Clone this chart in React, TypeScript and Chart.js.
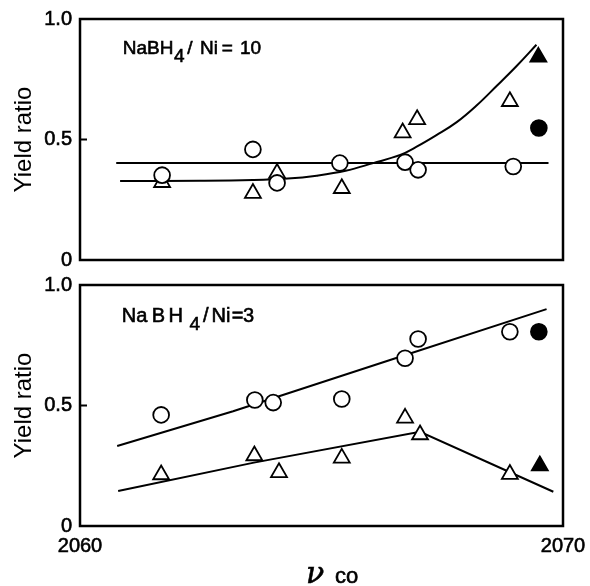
import { useEffect, useRef } from 'react';
import { Chart, registerables } from 'chart.js';

Chart.register(...registerables);

// ---------- data ----------
const xMin = 2060;
const xMax = 2070;
const xTickValues = [2060, 2070];
const yTickValues = [0, 0.5, 1.0];
const yTickLabels = ['0', '0.5', '1.0'];

// Top panel (NaBH4/Ni = 10)
const topCircleX = [2061.7, 2063.58, 2064.08, 2065.38, 2066.73, 2067.0, 2068.97];
const topCircleY = [0.352, 0.459, 0.32, 0.402, 0.406, 0.374, 0.388];
const topFilledCircleX = [2069.5];
const topFilledCircleY = [0.548];
const topTriangleX = [2061.7, 2063.58, 2064.08, 2065.42, 2066.68, 2066.98, 2068.9];
const topTriangleY = [0.322, 0.277, 0.36, 0.297, 0.528, 0.583, 0.658];
const topFilledTriangleX = [2069.49];
const topFilledTriangleY = [0.842];
const topCircleLineX = [2060.75, 2069.7];
const topCircleLineY = [0.402, 0.402];
const topTriangleCurveX = [2060.83, 2062.48, 2063.58, 2064.3, 2064.9, 2065.5, 2066.07, 2066.63, 2066.97, 2067.38, 2067.8, 2068.21, 2068.63, 2069.04, 2069.45];
const topTriangleCurveY = [0.328, 0.329, 0.332, 0.338, 0.35, 0.37, 0.402, 0.436, 0.47, 0.518, 0.572, 0.641, 0.723, 0.805, 0.893];

// Bottom panel (NaBH4/Ni = 3)
const botCircleX = [2061.68, 2063.62, 2064.0, 2065.42, 2066.73, 2067.0, 2068.9];
const botCircleY = [0.461, 0.523, 0.512, 0.527, 0.696, 0.776, 0.806];
const botFilledCircleX = [2069.5];
const botFilledCircleY = [0.806];
const botTriangleX = [2061.68, 2063.61, 2064.12, 2065.42, 2066.73, 2067.04, 2068.9];
const botTriangleY = [0.213, 0.292, 0.222, 0.282, 0.448, 0.379, 0.215];
const botFilledTriangleX = [2069.52];
const botFilledTriangleY = [0.25];
const botCircleLineX = [2060.77, 2063.17, 2066.42, 2069.66];
const botCircleLineY = [0.332, 0.476, 0.689, 0.9];
const botTriangleLineX = [2060.79, 2063.6, 2067.04, 2069.8];
const botTriangleLineY = [0.145, 0.263, 0.391, 0.142];

const yTitle = 'Yield ratio';
const topLabel = ['NaBH', '4', '/', 'Ni', '=', '10'];
const botLabel = ['Na', 'B', 'H', '4', '/', 'Ni', '=', '3'];
const xTitle = ['ν', 'co'];

// ---------- helpers ----------
const pts = (xs: number[], ys: number[]) => xs.map((x, i) => ({ x, y: ys[i] }));
const SANS = "'Liberation Sans', Arial, sans-serif";

function markerSet(xs: number[], ys: number[], style: string, filled: boolean) {
  const tri = style === 'triangle';
  return {
    type: 'scatter' as const,
    data: pts(xs, ys),
    pointStyle: style,
    pointRadius: tri ? 9.2 : 7.9,
    pointBorderWidth: 1.8,
    pointBorderColor: '#000',
    pointBackgroundColor: filled ? '#000' : '#fff',
    showLine: false,
    order: 0,
  };
}

function lineSet(xs: number[], ys: number[], smooth: boolean) {
  return {
    type: 'line' as const,
    data: pts(xs, ys),
    borderColor: '#000',
    borderWidth: 2,
    pointRadius: 0,
    fill: false,
    cubicInterpolationMode: 'default' as const,
    tension: smooth ? 0.4 : 0,
    order: 1,
  };
}

type Piece = { t: string; dx: number; dy: number; size: number; font?: string };

function drawPiece(ctx: CanvasRenderingContext2D, p: Piece, x: number, y: number) {
  ctx.font = p.font ? `${p.font} ${p.size}px 'DejaVu Serif', serif` : `${p.size}px ${SANS}`;
  ctx.fillText(p.t, x, y);
  ctx.lineWidth = 0.6;
  ctx.strokeText(p.t, x, y);
}

function decor(pieces: Piece[], extra: Piece[]) {
  return {
    id: 'decor',
    afterDraw(chart: any) {
      const { ctx, chartArea: a, scales } = chart;
      ctx.save();
      ctx.strokeStyle = '#000';
      ctx.lineWidth = 2.5;
      ctx.strokeRect(a.left, a.top, a.right - a.left, a.bottom - a.top);
      ctx.lineWidth = 2;
      for (const v of yTickValues) {
        if (v > 0 && v < 1) {
          const py = scales.y.getPixelForValue(v);
          ctx.beginPath();
          ctx.moveTo(a.left, py);
          ctx.lineTo(a.left + 7, py);
          ctx.stroke();
        }
      }
      ctx.fillStyle = '#000';
      ctx.textBaseline = 'alphabetic';
      ctx.textAlign = 'left';
      for (const p of pieces) drawPiece(ctx, p, a.left + p.dx, a.top + p.dy);
      for (const p of extra) drawPiece(ctx, p, a.left + p.dx, a.bottom + p.dy);
      ctx.restore();
    },
  };
}

function makeOptions(showX: boolean, padding: any) {
  return {
    responsive: false,
    animation: false as const,
    devicePixelRatio: 1,
    layout: { padding },
    plugins: { legend: { display: false }, tooltip: { enabled: false } },
    scales: {
      x: {
        type: 'linear' as const,
        min: xMin,
        max: xMax,
        display: showX,
        afterBuildTicks: (s: any) => {
          s.ticks = xTickValues.map((value) => ({ value }));
        },
        afterFit: (s: any) => {
          if (showX) s.height = 60;
        },
        grid: { display: false, drawTicks: true, tickLength: 5 },
        border: { display: false },
        ticks: {
          color: '#000',
          font: { family: SANS, size: 20 },
          padding: 3,
          maxRotation: 0,
          autoSkip: false,
          textStrokeColor: '#000',
          textStrokeWidth: 0.6,
          callback: (v: any) => String(v),
        },
      },
      y: {
        type: 'linear' as const,
        min: 0,
        max: 1,
        afterBuildTicks: (s: any) => {
          s.ticks = yTickValues.map((value) => ({ value }));
        },
        afterFit: (s: any) => {
          s.width = 80;
        },
        grid: { display: false, drawTicks: true, tickLength: 5 },
        border: { display: false },
        ticks: {
          color: '#000',
          font: { family: SANS, size: 20 },
          padding: 3,
          autoSkip: false,
          textStrokeColor: '#000',
          textStrokeWidth: 0.6,
          callback: (v: any) => yTickLabels[yTickValues.indexOf(Number(v))] ?? '',
        },
        title: {
          display: true,
          text: yTitle,
          color: '#000',
          font: { family: SANS, size: 24 },
          padding: { top: 10, bottom: 0 },
        },
      },
    },
  };
}

export default function App() {
  const topRef = useRef<HTMLCanvasElement>(null);
  const botRef = useRef<HTMLCanvasElement>(null);

  useEffect(() => {
    const topPieces: Piece[] = [
      { t: topLabel[0], dx: 42.7, dy: 35.3, size: 19 },
      { t: topLabel[1], dx: 94, dy: 43.3, size: 19 },
      { t: topLabel[2], dx: 107.3, dy: 35.3, size: 19 },
      { t: topLabel[3], dx: 120, dy: 35.3, size: 19 },
      { t: topLabel[4], dx: 141.7, dy: 35.3, size: 19 },
      { t: topLabel[5], dx: 160, dy: 35.3, size: 19 },
    ];
    const botPieces: Piece[] = [
      { t: botLabel[0], dx: 41.7, dy: 37.3, size: 20 },
      { t: botLabel[1], dx: 71.7, dy: 37.3, size: 20 },
      { t: botLabel[2], dx: 88.5, dy: 37.3, size: 20 },
      { t: botLabel[3], dx: 109.5, dy: 45, size: 19 },
      { t: botLabel[4], dx: 123, dy: 37.3, size: 20 },
      { t: botLabel[5], dx: 131.5, dy: 37.3, size: 20 },
      { t: botLabel[6], dx: 151.7, dy: 37.3, size: 20 },
      { t: botLabel[7], dx: 163, dy: 37.3, size: 20 },
    ];
    const xTitlePieces: Piece[] = [
      { t: xTitle[0], dx: 226, dy: 57, size: 30, font: 'italic' },
      { t: xTitle[1], dx: 255, dy: 57, size: 22 },
    ];

    const top = new Chart(topRef.current!, {
      type: 'scatter',
      data: {
        datasets: [
          markerSet(topCircleX, topCircleY, 'circle', false),
          markerSet(topFilledCircleX, topFilledCircleY, 'circle', true),
          markerSet(topTriangleX, topTriangleY, 'triangle', false),
          markerSet(topFilledTriangleX, topFilledTriangleY, 'triangle', true),
          lineSet(topCircleLineX, topCircleLineY, false),
          lineSet(topTriangleCurveX, topTriangleCurveY, true),
        ] as any,
      },
      options: makeOptions(false, { top: 19, right: 27, bottom: 12, left: 0 }) as any,
      plugins: [decor(topPieces, [])],
    });

    const bot = new Chart(botRef.current!, {
      type: 'scatter',
      data: {
        datasets: [
          markerSet(botCircleX, botCircleY, 'circle', false),
          markerSet(botFilledCircleX, botFilledCircleY, 'circle', true),
          markerSet(botTriangleX, botTriangleY, 'triangle', false),
          markerSet(botFilledTriangleX, botFilledTriangleY, 'triangle', true),
          lineSet(botCircleLineX, botCircleLineY, false),
          lineSet(botTriangleLineX, botTriangleLineY, false),
        ] as any,
      },
      options: makeOptions(true, { top: 15, right: 27, bottom: 0, left: 0 }) as any,
      plugins: [decor(botPieces, xTitlePieces)],
    });

    return () => {
      top.destroy();
      bot.destroy();
    };
  }, []);

  return (
    <div style={{ position: 'absolute', left: 0, top: 0, width: 590, height: 586, background: '#fff' }}>
      <canvas ref={topRef} width={590} height={275} style={{ position: 'absolute', left: 0, top: 0 }} />
      <canvas ref={botRef} width={590} height={316} style={{ position: 'absolute', left: 0, top: 270 }} />
    </div>
  );
}
